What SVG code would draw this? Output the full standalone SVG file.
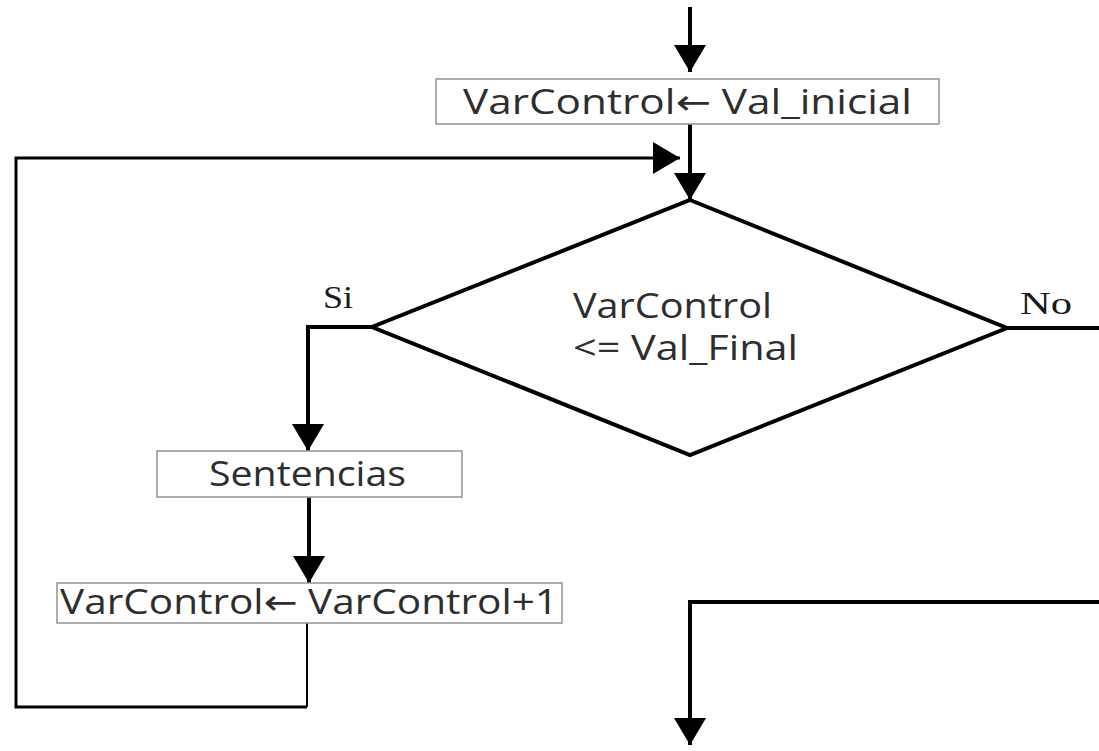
<svg xmlns="http://www.w3.org/2000/svg" width="1099" height="751" viewBox="0 0 1099 751">
  <style>
    .box { fill: #ffffff; stroke: #9a9a9a; stroke-width: 1.6; }
    .txt { font-family: "Open Sans", "DejaVu Sans", sans-serif; font-size: 34px; fill: #2e2e2e; }
    .lbl { font-family: "Liberation Serif", "Times New Roman", serif; font-size: 32px; fill: #1a1a1a; }
    .flow { fill: none; stroke: #000000; stroke-width: 4; }
    .loop { fill: none; stroke: #000000; stroke-width: 3; }
    .thin { fill: none; stroke: #000000; stroke-width: 2; }
    .dec { fill: #ffffff; stroke: #000000; stroke-width: 4; stroke-linejoin: miter; }
  </style>
  <defs>
    <marker id="head" markerUnits="userSpaceOnUse" markerWidth="28" markerHeight="32" refX="27" refY="16" orient="auto">
      <path d="M0,0 L27,16 L0,32 Z" fill="#000000"/>
    </marker>
  </defs>
  <rect width="1099" height="751" fill="#ffffff"/>

  <g id="connectors">
    <!-- entry -->
    <path class="flow" d="M690,7 L690,72" marker-end="url(#head)"/>
    <!-- init to condition -->
    <path class="flow" d="M690,124 L690,200" marker-end="url(#head)"/>
    <!-- loop back -->
    <path class="thin" d="M307,623 L307,707"/>
    <path class="loop" d="M307,707 L16,707 L16,158 L680,158" marker-end="url(#head)"/>
    <!-- Si branch -->
    <path class="flow" d="M372,327 L308,327 L308,451" marker-end="url(#head)"/>
    <!-- body to increment -->
    <path class="flow" d="M309,497 L309,583" marker-end="url(#head)"/>
    <!-- No branch -->
    <path class="flow" d="M1007,328 L1099,328"/>
    <path class="flow" d="M1099,602 L690,602 L690,745" marker-end="url(#head)"/>
  </g>

  <g id="init">
    <rect class="box" x="436" y="79" width="503" height="45"/>
    <text class="txt" x="463" y="114" textLength="449" lengthAdjust="spacingAndGlyphs">VarControl← Val_inicial</text>
  </g>

  <g id="condition">
    <polygon class="dec" points="690,200 1007,328 690,455 372,327"/>
    <text class="txt" x="573" y="318" textLength="199" lengthAdjust="spacingAndGlyphs">VarControl</text>
    <text class="txt" x="573" y="360" textLength="225" lengthAdjust="spacingAndGlyphs">&lt;= Val_Final</text>
  </g>

  <g id="label-si">
    <text class="lbl" x="323" y="308" textLength="30" lengthAdjust="spacingAndGlyphs">Si</text>
  </g>
  <g id="label-no">
    <text class="lbl" x="1020" y="314" textLength="52" lengthAdjust="spacingAndGlyphs">No</text>
  </g>

  <g id="body">
    <rect class="box" x="157" y="451" width="305" height="46"/>
    <text class="txt" x="209" y="486" textLength="197" lengthAdjust="spacingAndGlyphs">Sentencias</text>
  </g>

  <g id="increment">
    <rect class="box" x="57" y="583" width="505" height="40"/>
    <text class="txt" x="60" y="614" textLength="498" lengthAdjust="spacingAndGlyphs">VarControl← VarControl+1</text>
  </g>
</svg>
